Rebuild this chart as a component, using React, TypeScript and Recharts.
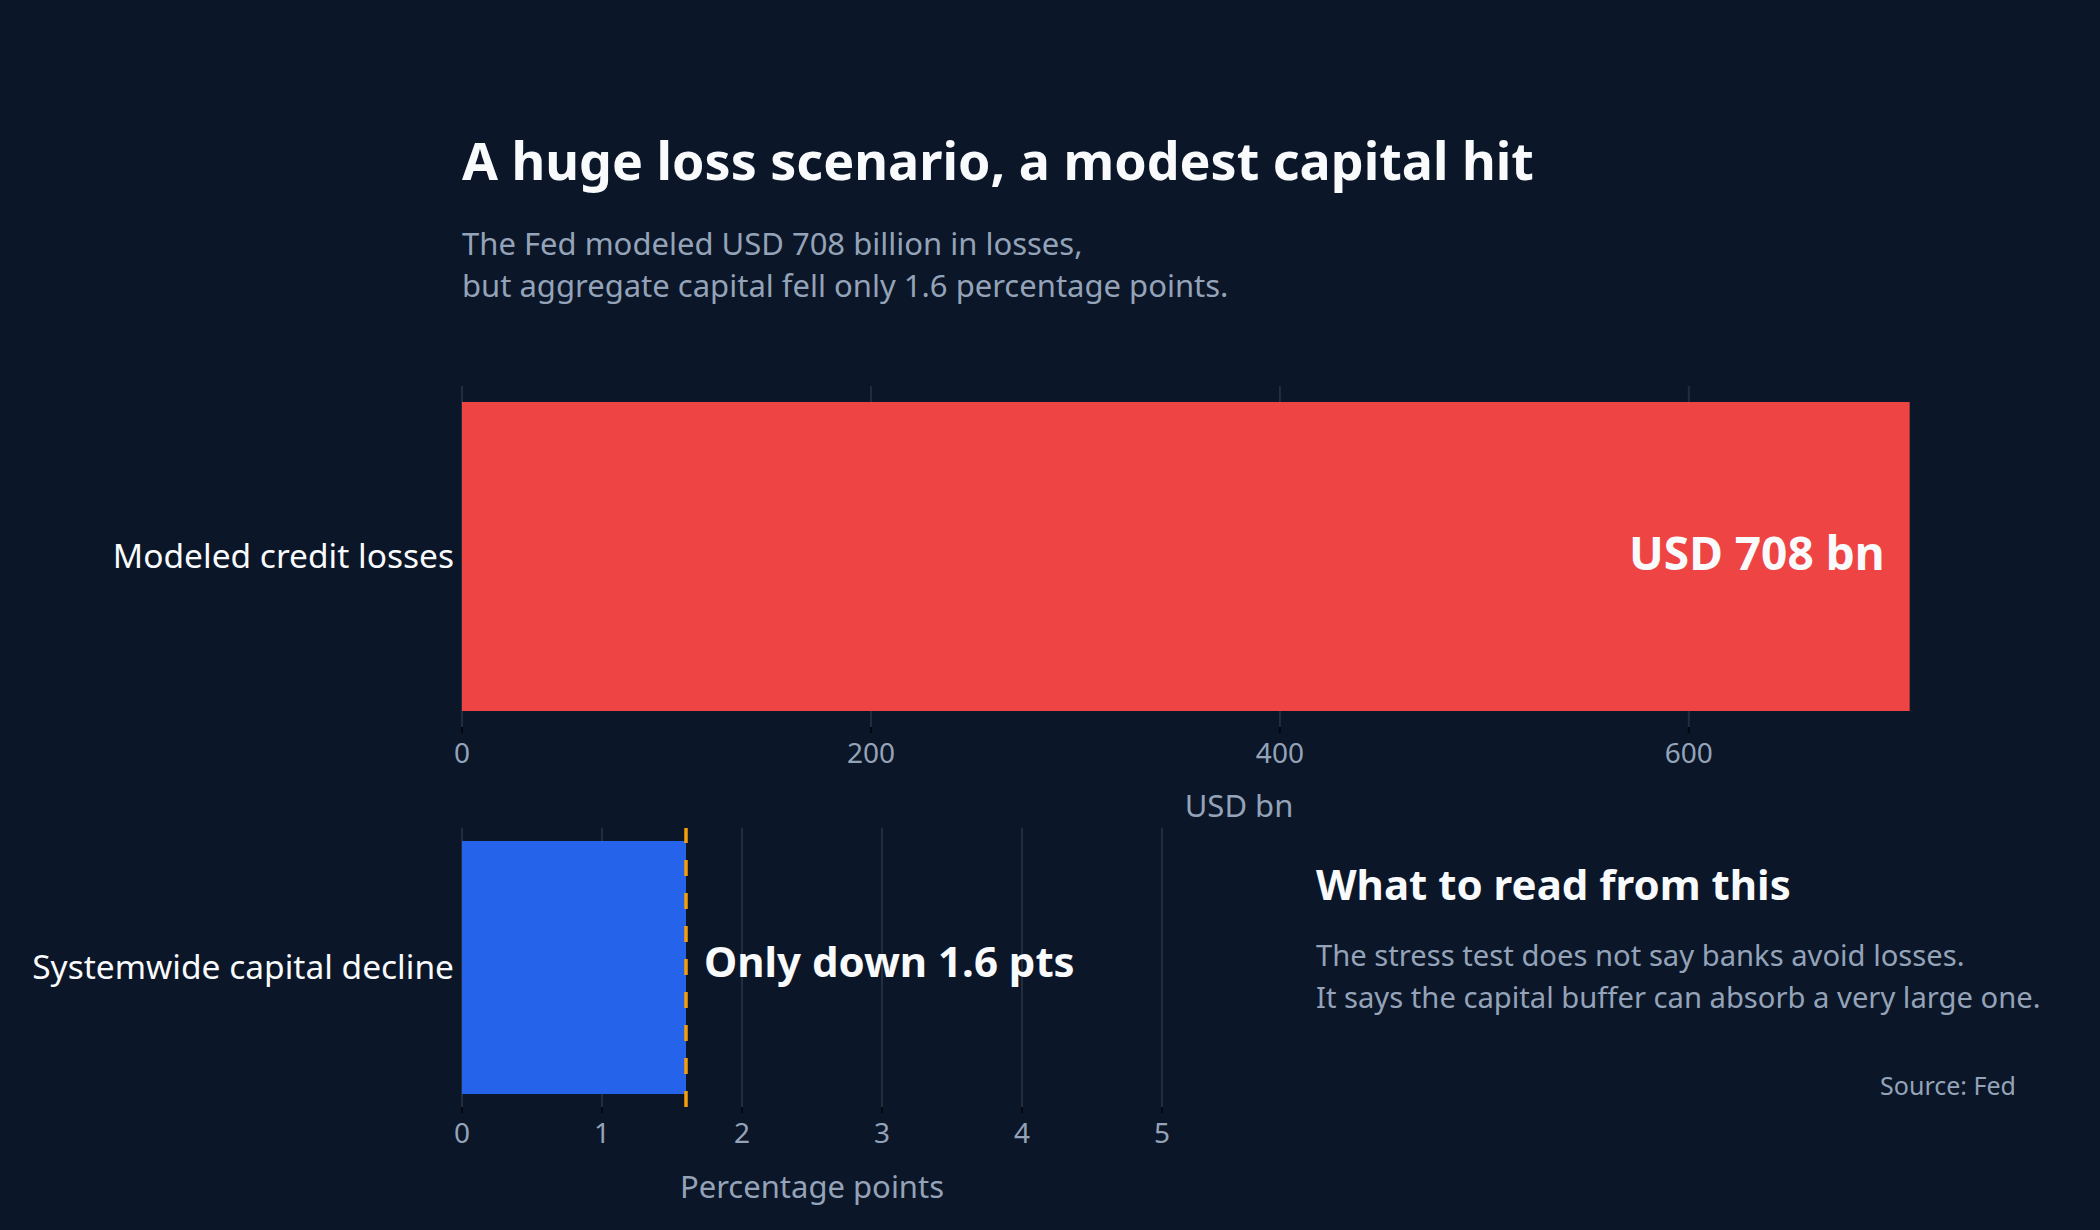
import React from "react";
import {
  Bar,
  BarChart,
  CartesianGrid,
  LabelList,
  ReferenceLine,
  XAxis,
  YAxis,
} from "recharts";

// values
const lossCategories = ["Modeled credit losses"];
const lossValues = [708];
const lossTicks = [0, 200, 400, 600];
const lossDomain = [0, 760];

const capitalCategories = ["Systemwide capital decline"];
const capitalValues = [1.6];
const capitalTicks = [0, 1, 2, 3, 4, 5];
const capitalDomain = [0, 5];

const BG = "#0b1628";
const GRID = "#222d3e";
const MUTED = "#94a3b8";
const WHITE = "#f8fafc";
const FONT = "'Noto Sans', 'Open Sans', sans-serif";

const lossData = lossCategories.map((name, i) => ({ name, value: lossValues[i] }));
const capitalData = capitalCategories.map((name, i) => ({ name, value: capitalValues[i] }));

const tickStyle = { fill: MUTED, fontSize: 28 };

function LossChart() {
  return (
    <BarChart
      width={2100}
      height={448}
      data={lossData}
      layout="vertical"
      margin={{ top: 0, right: 84, bottom: 0, left: 0 }}
    >
      <CartesianGrid
        horizontal={false}
        verticalValues={lossTicks}
        stroke={GRID}
        strokeWidth={2}
      />
      <XAxis
        type="number"
        domain={lossDomain}
        ticks={lossTicks}
        axisLine={false}
        tickLine={{ stroke: "#03070d", strokeWidth: 2 }}
        tickSize={6}
        tickMargin={10}
        tick={tickStyle}
        height={107}
        label={{ value: "USD bn", position: "insideBottom", offset: 17, fill: MUTED, fontSize: 31 }}
      />
      <YAxis
        type="category"
        dataKey="name"
        width={462}
        axisLine={false}
        tickLine={false}
        tickSize={0}
        tickMargin={8}
        tick={{ fill: WHITE, fontSize: 33.5 }}
      />
      <Bar dataKey="value" fill="#ef4444" barSize={309} isAnimationActive={false}>
        <LabelList
          dataKey="value"
          position="insideRight"
          offset={25}
          dy={-3}
          fill={WHITE}
          fontSize={46}
          fontWeight={700}
          formatter={(v: number) => `USD ${v} bn`}
        />
      </Bar>
    </BarChart>
  );
}

function CapitalChart() {
  return (
    <BarChart
      width={1200}
      height={387}
      data={capitalData}
      layout="vertical"
      margin={{ top: 0, right: 38, bottom: 0, left: 0 }}
    >
      <CartesianGrid
        horizontal={false}
        verticalValues={capitalTicks}
        stroke={GRID}
        strokeWidth={2}
      />
      <XAxis
        type="number"
        domain={capitalDomain}
        ticks={capitalTicks}
        axisLine={false}
        tickLine={{ stroke: "#03070d", strokeWidth: 2 }}
        tickSize={6}
        tickMargin={10}
        tick={tickStyle}
        height={108}
        label={{
          value: "Percentage points",
          position: "insideBottom",
          offset: 17,
          fill: MUTED,
          fontSize: 31,
        }}
      />
      <YAxis
        type="category"
        dataKey="name"
        width={462}
        axisLine={false}
        tickLine={false}
        tickSize={0}
        tickMargin={8}
        tick={{ fill: WHITE, fontSize: 33.5 }}
      />
      <Bar dataKey="value" fill="#2563eb" barSize={253} isAnimationActive={false}>
        <LabelList
          dataKey="value"
          position="right"
          offset={18}
          dy={-5}
          fill={WHITE}
          fontSize={42}
          fontWeight={700}
          formatter={(v: number) => `Only down ${v} pts`}
        />
      </Bar>
      <ReferenceLine
        x={capitalValues[0]}
        stroke="#f59e0b"
        strokeWidth={3.5}
        strokeDasharray="16 17"
      />
    </BarChart>
  );
}

export default function App() {
  return (
    <div
      style={{
        position: "absolute",
        left: 0,
        top: 0,
        width: 2100,
        height: 1230,
        background: BG,
        fontFamily: FONT,
        overflow: "hidden",
      }}
    >
      <div
        style={{
          position: "absolute",
          left: 462,
          top: 130,
          fontSize: 52,
          lineHeight: "60px",
          fontWeight: 700,
          color: WHITE,
          whiteSpace: "nowrap",
        }}
      >
        A huge loss scenario, a modest capital hit
      </div>
      <div
        style={{
          position: "absolute",
          left: 462,
          top: 222,
          fontSize: 31,
          lineHeight: "42px",
          color: MUTED,
          whiteSpace: "nowrap",
        }}
      >
        The Fed modeled USD 708 billion in losses,
        <br />
        but aggregate capital fell only 1.6 percentage points.
      </div>

      <div style={{ position: "absolute", left: 0, top: 386 }}>
        <LossChart />
      </div>
      <div style={{ position: "absolute", left: 0, top: 828 }}>
        <CapitalChart />
      </div>

      <div
        style={{
          position: "absolute",
          left: 1316,
          top: 860,
          fontSize: 42,
          lineHeight: "48px",
          fontWeight: 700,
          color: WHITE,
          whiteSpace: "nowrap",
        }}
      >
        What to read from this
      </div>
      <div
        style={{
          position: "absolute",
          left: 1316,
          top: 934,
          fontSize: 29.2,
          lineHeight: "42px",
          color: MUTED,
          whiteSpace: "nowrap",
        }}
      >
        The stress test does not say banks avoid losses.
        <br />
        It says the capital buffer can absorb a very large one.
      </div>
      <div
        style={{
          position: "absolute",
          right: 84,
          top: 1070,
          fontSize: 25,
          lineHeight: "30px",
          color: MUTED,
          whiteSpace: "nowrap",
        }}
      >
        Source: Fed
      </div>
    </div>
  );
}
